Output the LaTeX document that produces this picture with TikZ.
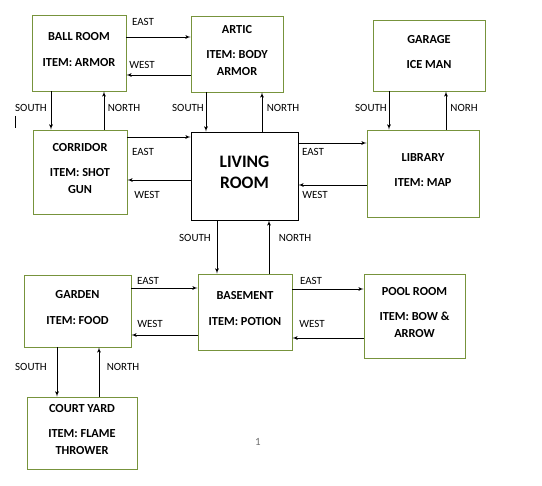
\documentclass[tikz,border=0pt]{standalone}
\usepackage{fontspec}
\setmainfont{Carlito}
\usetikzlibrary{arrows}
\definecolor{roomgreen}{RGB}{119,147,60}
\definecolor{pagegray}{RGB}{110,110,110}

\begin{document}
\begin{tikzpicture}[x=1pt,y=-1pt,thick,line width=0.8pt,>=latex',
    roomtxt/.style={inner sep=0pt,align=center,yshift=3.5pt,font=\bfseries\fontsize{12.3}{17}\selectfont},
    room/.style={draw=roomgreen,inner sep=0pt,label={[roomtxt]center:#1}},
    bigroom/.style={draw=black,inner sep=0pt,label={[roomtxt,font=\bfseries\fontsize{17.5}{21}\selectfont]center:#1}},
    dirlbl/.style={font=\fontsize{11}{12}\selectfont,inner sep=0pt}]
    \useasboundingbox (0,0) rectangle (542,486);

    % rooms
    \node[room={BALL ROOM\\[8.5pt]ITEM: ARMOR},minimum width=94,minimum height=76] (ballroom) at (79,53) {};
    \node[room={ARTIC\\[8.5pt]ITEM: BODY\\ARMOR},minimum width=92,minimum height=76] (artic) at (237,54) {};
    \node[room={CORRIDOR\\[8.5pt]ITEM: SHOT\\GUN},minimum width=94,minimum height=84] (corridor) at (80,172) {};
    \node[bigroom={LIVING\\ROOM},minimum width=107,minimum height=88] (living) at (244.5,176) {};
    \node[room={GARAGE\\[8.5pt]ICE MAN},minimum width=112,minimum height=71] (garage) at (429,55.5) {};
    \node[room={LIBRARY\\[8.5pt]ITEM: MAP},minimum width=112,minimum height=87] (library) at (423,173.5) {};
    \node[room={GARDEN\\[8.5pt]ITEM: FOOD},minimum width=107,minimum height=72] (garden) at (77.5,311) {};
    \node[room={BASEMENT\\[8.5pt]ITEM: POTION},minimum width=94,minimum height=76] (basement) at (245,312) {};
    \node[room={POOL ROOM\\[8.5pt]ITEM: BOW \&\\ARROW},minimum width=101,minimum height=84] (poolroom) at (414.5,316) {};
    \node[room={COURT YARD\\[8.5pt]ITEM: FLAME\\THROWER},minimum width=110,minimum height=72] (courtyard) at (82,433) {};

    % east / west
    \draw[->] (ballroom.east |- 0,37) -- (artic.west |- 0,37);
    \draw[->] (artic.west |- 0,75) -- (ballroom.east |- 0,75);
    \draw[->] (corridor.east |- 0,137) -- (living.west |- 0,137);
    \draw[->] (living.west |- 0,180) -- (corridor.east |- 0,180);
    \draw[->] (living.east |- 0,143) -- (library.west |- 0,143);
    \draw[->] (library.west |- 0,185) -- (living.east |- 0,185);
    \draw[->] (garden.east |- 0,288) -- (basement.west |- 0,288);
    \draw[->] (basement.west |- 0,335) -- (garden.east |- 0,335);
    \draw[->] (basement.east |- 0,289) -- (poolroom.west |- 0,289);
    \draw[->] (poolroom.west |- 0,338) -- (basement.east |- 0,338);

    % south / north
    \draw[->] (ballroom.south -| 51,0) -- (corridor.north -| 51,0);
    \draw[->] (corridor.north -| 104,0) -- (ballroom.south -| 104,0);
    \draw[->] (artic.south -| 206,0) -- (living.north -| 206,0);
    \draw[->] (living.north -| 262,0) -- (artic.south -| 262,0);
    \draw[->] (garage.south -| 389,0) -- (library.north -| 389,0);
    \draw[->] (library.north -| 446,0) -- (garage.south -| 446,0);
    \draw[->] (living.south -| 217,0) -- (basement.north -| 217,0);
    \draw[->] (basement.north -| 269,0) -- (living.south -| 269,0);
    \draw[->] (garden.south -| 57,0) -- (courtyard.north -| 57,0);
    \draw[->] (courtyard.north -| 99,0) -- (garden.south -| 99,0);

    % direction labels
    \node[dirlbl] (e1) at (143,22) {EAST};
    \node[dirlbl] (w1) at (142,65) {WEST};
    \node[dirlbl] (s1) at (31,108) {SOUTH};
    \node[dirlbl] (n1) at (124,108) {NORTH};
    \node[dirlbl] (s2) at (188,108) {SOUTH};
    \node[dirlbl] (n2) at (283,108) {NORTH};
    \node[dirlbl] (s3) at (371,108) {SOUTH};
    \node[dirlbl] (n3) at (464,108) {NORH};
    \node[dirlbl] (e2) at (143,152) {EAST};
    \node[dirlbl] (w2) at (147,195) {WEST};
    \node[dirlbl] (e3) at (313,152) {EAST};
    \node[dirlbl] (w3) at (315,195) {WEST};
    \node[dirlbl] (s4) at (195,238) {SOUTH};
    \node[dirlbl] (n4) at (295,238) {NORTH};
    \node[dirlbl] (e4) at (148,281) {EAST};
    \node[dirlbl] (w4) at (150,324) {WEST};
    \node[dirlbl] (e5) at (311,281) {EAST};
    \node[dirlbl] (w5) at (312,324) {WEST};
    \node[dirlbl] (s5) at (31,367) {SOUTH};
    \node[dirlbl] (n5) at (123,367) {NORTH};

    \draw[thin] (15,116) -- (15,128);
    \node[dirlbl,text=pagegray] (pagenum) at (258,442) {1};
\end{tikzpicture}
\end{document}
